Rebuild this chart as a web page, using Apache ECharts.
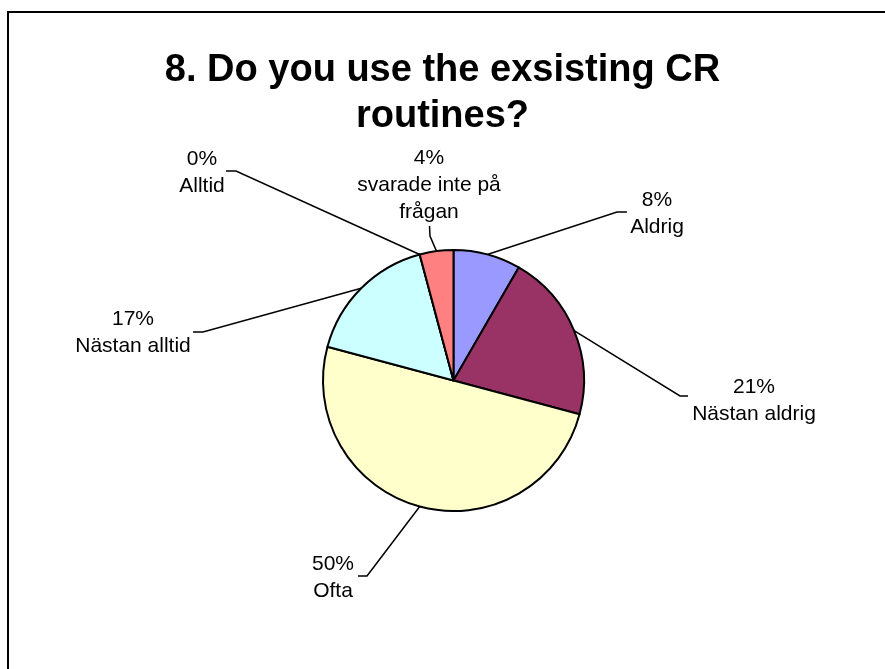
<!DOCTYPE html>
<html>
<head>
<meta charset="utf-8">
<title>8. Do you use the exsisting CR routines?</title>
<script src="https://cdn.jsdelivr.net/npm/echarts@6/dist/echarts.min.js"></script>
<style>
  html, body { margin: 0; padding: 0; background: #ffffff; }
  #chart { width: 885px; height: 669px; }
</style>
</head>
<body>
<div id="chart"></div>
<script>
// Survey answers (number of respondents per option)
const categories = ['Aldrig', 'Nästan aldrig', 'Ofta', 'Nästan alltid', 'Alltid', 'svarade inte på\nfrågan'];
const counts = [2, 5, 12, 4, 0, 1];
const sliceColors = ['#9999FF', '#993366', '#FFFFCC', '#CCFFFF', '#660066', '#FF8080'];

// Label placement: text block centre, leader bend and leader end (px)
const labelCenters = [[657, 214], [754, 401], [333, 578], [133, 333], [202, 173], [429, 185]];
const leaderBends  = [[617, 212], [680, 396], [367, 576], [203, 332], [236, 171], [430, 236]];
const leaderEnds   = [[627, 212], [688, 396], [358, 576], [193, 332], [226, 171], [429.5, 226]];

const FONT = '"Liberation Sans", Arial, Helvetica, sans-serif';

const chart = echarts.init(document.getElementById('chart'), null, { renderer: 'canvas' });

chart.setOption({
  animation: false,
  backgroundColor: '#ffffff',
  title: {
    text: '8. Do you use the exsisting CR\nroutines?',
    left: 'center',
    top: 43,
    textStyle: {
      fontFamily: FONT,
      fontSize: 38,
      fontWeight: 'bold',
      color: '#000000',
      lineHeight: 46
    }
  },
  graphic: [{
    type: 'rect',
    silent: true,
    shape: { x: 8, y: 12, width: 900, height: 700 },
    style: { fill: 'none', stroke: '#000000', lineWidth: 2 }
  }],
  series: [{
    type: 'pie',
    center: [453.5, 380.5],
    radius: 130.5,
    startAngle: 90,
    clockwise: true,
    avoidLabelOverlap: false,
    data: categories.map((name, i) => ({
      name: name,
      value: counts[i],
      itemStyle: { color: sliceColors[i] }
    })),
    itemStyle: { borderColor: '#000000', borderWidth: 2 },
    label: {
      show: true,
      position: 'outside',
      fontFamily: FONT,
      fontSize: 21,
      lineHeight: 27,
      color: '#000000',
      formatter: p => Math.round(p.percent) + '%\n' + p.name
    },
    labelLine: {
      show: true,
      length: 10,
      length2: 10,
      smooth: false,
      lineStyle: { color: '#000000', width: 1.5 }
    },
    labelLayout: function (params) {
      const i = params.dataIndex;
      const start = params.labelLinePoints ? params.labelLinePoints[0] : leaderBends[i];
      return {
        x: labelCenters[i][0],
        y: labelCenters[i][1],
        align: 'center',
        verticalAlign: 'middle',
        labelLinePoints: [start, leaderBends[i], leaderEnds[i]]
      };
    },
    emphasis: { disabled: true }
  }]
});
</script>
</body>
</html>
